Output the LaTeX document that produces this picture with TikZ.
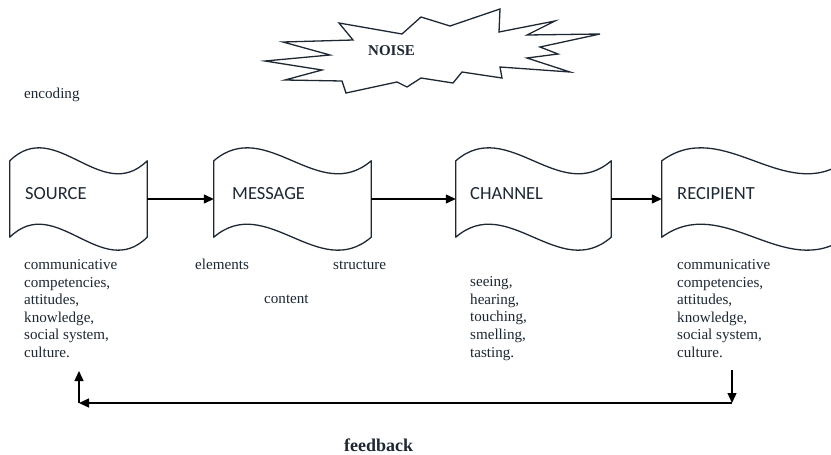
\documentclass[tikz,border=0pt]{standalone}
\usepackage{fontspec}
\setmainfont{Liberation Serif}
\newfontfamily\calib{Carlito}
\usetikzlibrary{arrows.meta,calc}
\definecolor{ink}{HTML}{1E2833}
\newcommand\tapepath[1]{%
  \path[tapeline] (#1.north west)
    .. controls ($(#1.north west)!1/3!(#1.north east)+(0,-45)$) and ($(#1.north west)!2/3!(#1.north east)+(0,45)$) .. (#1.north east)
    -- (#1.south east)
    .. controls ($(#1.south west)!2/3!(#1.south east)+(0,45)$) and ($(#1.south west)!1/3!(#1.south east)+(0,-45)$) .. (#1.south west)
    -- cycle;}
\begin{document}
\begin{tikzpicture}[x=1pt,y=-1pt,
  tapeline/.style={draw=ink, line width=1.3pt, fill=white, line join=round},
  holder/.style={minimum width=#1, minimum height=76pt, inner sep=0pt, draw=none},
  boxlabel/.style={font=\calib\fontsize{18.5}{22}\selectfont, text=ink, anchor=base west, inner sep=0pt},
  note/.style={font=\fontsize{15.1}{17.6}\selectfont, text=ink, align=left, anchor=base west, inner sep=0pt},
  arr/.style={draw=black, line width=1.3pt, -{Triangle[length=10pt,width=9pt]}},
  burst/.style={draw=ink, line width=1.3pt, fill=white, line join=miter}
]
\clip (0,0) rectangle (831,455);
\fill[white] (0,0) rectangle (831,455);

% noise burst
\draw[burst] (339,23) -- (402,34) -- (421,17) -- (450,26) -- (500,9) -- (499,32) -- (555,21) -- (527,35) -- (600,34) -- (540,47) -- (558,54) -- (527,58) -- (570,72) -- (500,67) -- (502,78) -- (462,72) -- (453,83) -- (421,78) -- (407,87) -- (397,82) -- (346,93) -- (342,81) -- (285,80) -- (322,70) -- (265,61) -- (330,55) -- (283,42) -- (353,40) -- cycle;
\node[note, font=\bfseries\fontsize{15}{18}\selectfont] (noise) at (368,56) {NOISE};

\node[note] (enc) at (24,98.5) {encoding};

% tape shapes
\node[holder=137pt] (source) at (78.5,199) {};
\node[holder=157pt] (message) at (292.5,199) {};
\node[holder=155pt] (channel) at (533.5,199) {};
\node[holder=184pt] (recipient) at (754,199) {};
\tapepath{source}
\tapepath{message}
\tapepath{channel}
\tapepath{recipient}
\node[boxlabel] (srcl) at (25,199) {SOURCE};
\node[boxlabel] (msgl) at (232,199) {MESSAGE};
\node[boxlabel] (chnl) at (470,199) {CHANNEL};
\node[boxlabel] (rcpl) at (677,199) {RECIPIENT};

\draw[arr] (source.east) -- (message.west);
\draw[arr] (message.east) -- (channel.west);
\draw[arr] (channel.east) -- (recipient.west);

% notes (base anchor = last line)
\node[note] (srcn) at (24,357.5) {communicative\\competencies,\\attitudes,\\knowledge,\\social system,\\culture.};
\node[note] (elem) at (195,269.5) {elements};
\node[note] (struct) at (333,269.5) {structure};
\node[note] (cont) at (264,303.5) {content};
\node[note] (chnn) at (470,357) {seeing,\\hearing,\\touching,\\smelling,\\tasting.};
\node[note] (rcpn) at (677,357.5) {communicative\\competencies,\\attitudes,\\knowledge,\\social system,\\culture.};

% feedback loop
\coordinate (fbRt) at (732,370);
\coordinate (fbRb) at (732,403);
\coordinate (fbLb) at (79,403);
\coordinate (fbLt) at (79,371);
\draw[arr] (fbRt) -- (fbRb);
\draw[arr] (fbRb) -- (fbLb);
\draw[arr] (fbLb) -- (fbLt);
\node[note, font=\bfseries\fontsize{18}{22}\selectfont] (fb) at (344,451.5) {feedback};
\end{tikzpicture}
\end{document}
